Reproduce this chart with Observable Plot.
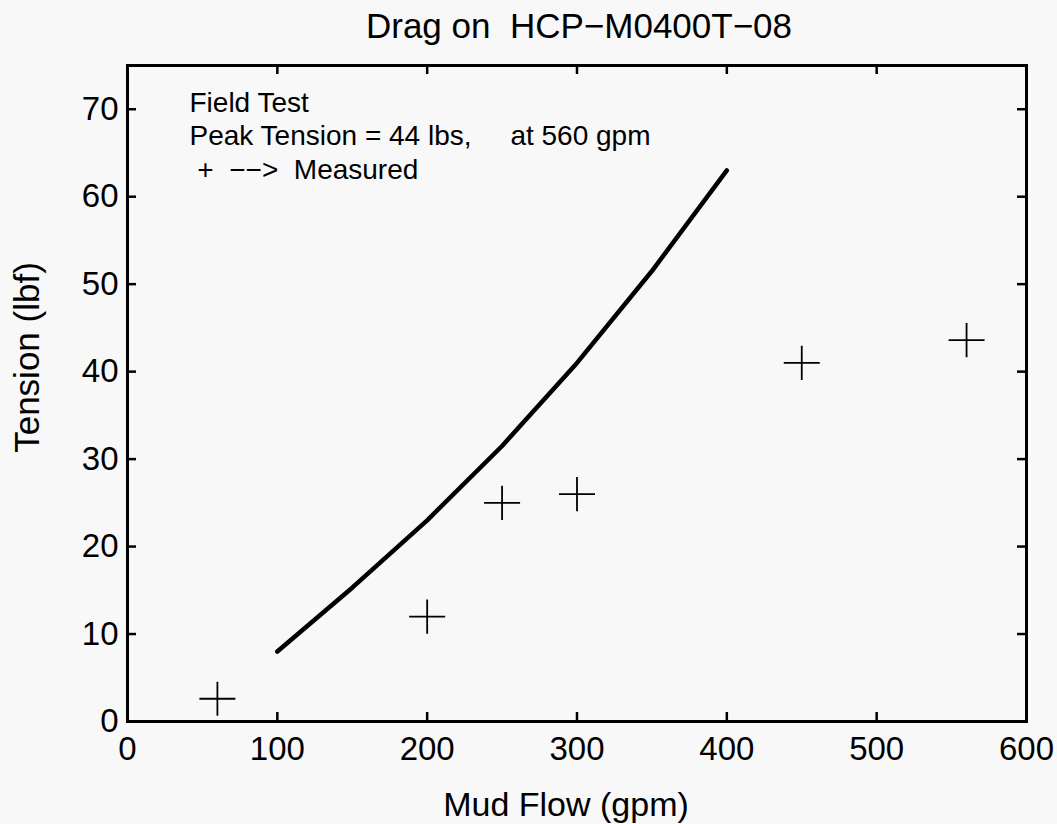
<!DOCTYPE html>
<html>
<head>
<meta charset="utf-8">
<script src="https://cdn.jsdelivr.net/npm/d3@7"></script>
<script src="https://cdn.jsdelivr.net/npm/@observablehq/plot@0.6"></script>
<style>
  html, body { margin: 0; padding: 0; background: #f8f8f8; }
  svg text { white-space: pre; }
</style>
</head>
<body>
<div id="chart"></div>
<script>
// Model (predicted drag) curve
const modelFlow = [100, 150, 200, 250, 300, 350, 400];
const modelTension = [8, 15.3, 23, 31.5, 41, 51.5, 63];
// Field-test measured points
const measFlow = [60, 200, 250, 300, 450, 560];
const measTension = [2.6, 12, 25, 26, 41, 43.6];
// Ticks
const xTicks = [0, 100, 200, 300, 400, 500, 600];
const yTicks = [0, 10, 20, 30, 40, 50, 60, 70];
const xInner = [100, 200, 300, 400, 500];
const yInner = [10, 20, 30, 40, 50, 60, 70];
const titleText = "Drag on  HCP\u2212M0400T\u221208";
const xLabel = "Mud Flow (gpm)";
const yLabel = "Tension (lbf)";
const legend1 = "Field Test";
const legend2 = "Peak Tension = 44 lbs,     at 560 gpm";
const legend3 = " +  \u2212\u2212>  Measured";

const model = modelFlow.map((x, i) => ({x, y: modelTension[i]}));
const measured = measFlow.map((x, i) => ({x, y: measTension[i]}));

const W = 1057, H = 824;
const mL = 127, mR = 31, mT = 65, mB = 103;
const fH = H - mT - mB, fW = W - mL - mR;
const tickLen = 9;

const plusSymbol = {
  draw(context, size) {
    const r = Math.sqrt(size / Math.PI);
    context.moveTo(-r, 0); context.lineTo(r, 0);
    context.moveTo(0, -r * 0.95); context.lineTo(0, r * 0.95);
  }
};

const font = "'Liberation Sans', Arial, Helvetica, sans-serif";
const legendText = (s, dy) => Plot.text([s], {
  frameAnchor: "top-left", text: d => d, dx: 62, dy,
  textAnchor: "start", lineAnchor: "bottom", fontSize: 28, fill: "black"
});

const chart = Plot.plot({
  width: W, height: H,
  marginLeft: mL, marginRight: mR, marginTop: mT, marginBottom: mB,
  style: {fontFamily: font, fontSize: "33px", background: "#f8f8f8", color: "black"},
  x: {domain: [0, 600], ticks: xTicks, label: null},
  y: {domain: [0, 75], ticks: yTicks, label: null},
  marks: [
    Plot.axisX({ticks: xTicks, tickSize: 0, tickPadding: 15, fontSize: 33, label: null}),
    Plot.axisY({ticks: yTicks, tickSize: 0, tickPadding: 9, fontSize: 33, label: null}),
    // inward ticks, bottom and top
    Plot.tickX(xInner, {x: d => d, insetTop: fH - tickLen, stroke: "black", strokeWidth: 2.5}),
    Plot.tickX(xInner, {x: d => d, insetBottom: fH - tickLen, stroke: "black", strokeWidth: 2.5}),
    // inward ticks, left and right
    Plot.tickY(yInner, {y: d => d, insetRight: fW - tickLen, stroke: "black", strokeWidth: 2.5}),
    Plot.tickY(yInner, {y: d => d, insetLeft: fW - tickLen, stroke: "black", strokeWidth: 2.5}),
    Plot.frame({stroke: "black", strokeWidth: 3}),
    Plot.line(model, {x: "x", y: "y", stroke: "black", strokeWidth: 4.5, strokeLinejoin: "round"}),
    Plot.dot(measured, {x: "x", y: "y", symbol: plusSymbol, r: 18, stroke: "black", strokeWidth: 1.8, fill: "none"}),
    // legend text
    legendText(legend1, 46),
    legendText(legend2, 79),
    legendText(legend3, 113),
    // title and axis labels
    Plot.text([titleText], {frameAnchor: "top", text: d => d, dx: 2, dy: -28, lineAnchor: "bottom", fontSize: 35, fill: "black"}),
    Plot.text([xLabel], {frameAnchor: "bottom", text: d => d, dx: -11, dy: 94, lineAnchor: "bottom", fontSize: 34, fill: "black"}),
    Plot.text([yLabel], {frameAnchor: "left", text: d => d, dx: -100, dy: -36, rotate: -90, textAnchor: "middle", lineAnchor: "middle", fontSize: 35, fill: "black"})
  ]
});

document.getElementById("chart").appendChild(chart);
</script>
</body>
</html>
